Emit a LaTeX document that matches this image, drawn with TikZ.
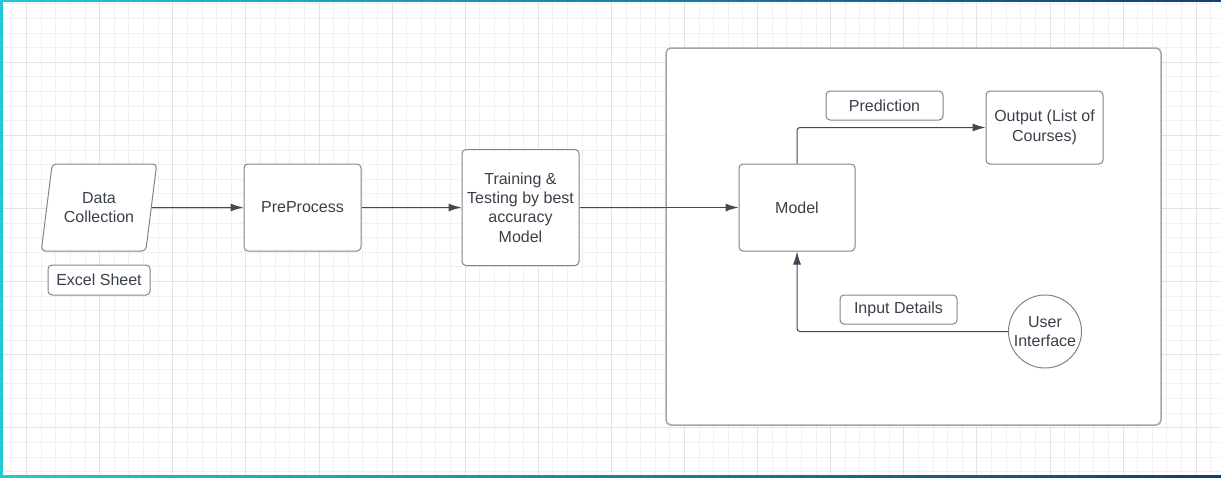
\documentclass[tikz,border=0pt]{standalone}
\usepackage{fontspec}
\setmainfont{Liberation Sans}
\usetikzlibrary{arrows.meta,shapes.geometric}
\definecolor{gridminor}{HTML}{F1F1F1}
\definecolor{gridmajor}{HTML}{E3E3E3}
\definecolor{boxline}{HTML}{7F848B}
\definecolor{arrowline}{HTML}{434952}
\definecolor{textgray}{HTML}{3A404A}
\definecolor{frameline}{HTML}{A2A5A9}
\definecolor{edgecyan}{HTML}{22C8D4}
\definecolor{edgeblue}{HTML}{143F6C}
\begin{document}
\begin{tikzpicture}[x=1pt, y=-1pt,
    block/.style={draw=boxline, line width=1pt, rounded corners=4pt, fill=white,
        text=textgray, align=center, inner sep=0pt,
        font=\fontsize{16}{19.3}\selectfont},
    tag/.style={block, minimum width=117pt, minimum height=29pt},
    link/.style={draw=arrowline, line width=1pt, -{Latex[length=13pt,width=8pt]}}]
        \useasboundingbox (0, 0) rectangle (1221, 477);
        \fill[white] (0, 0) rectangle (1221, 477);

        % grid
        \foreach \i in {-1,...,82}
            \draw[gridminor, line width=1pt] ({26.6 + 14.62 * \i}, 0) -- ++(0, 477);
        \foreach \j in {-4,...,28}
            \draw[gridminor, line width=1pt] (0, {62.3 + 14.62 * \j}) -- ++(1221, 0);
        \foreach \i in {0,...,16}
            \draw[gridmajor, line width=1pt] ({26.6 + 73.1 * \i}, 0) -- ++(0, 477);
        \foreach \j in {-0,...,5}
            \draw[gridmajor, line width=1pt] (0, {62.3 + 73.1 * \j}) -- ++(1221, 0);

        \node[draw=frameline, line width=1.5pt, rounded corners=5pt, fill=white,
            minimum width=495pt, minimum height=377pt] (system) at (913.5, 236.5) {};

        \node[block, trapezium, trapezium left angle=75, trapezium right angle=105,
            trapezium stretches=true, minimum width=116pt, minimum height=87pt]
            (data) at (99, 207.5) {Data\\Collection};
        \node[tag, minimum width=102pt, minimum height=30pt] (excel) at (99, 280) {Excel Sheet};

        \node[block, minimum width=117pt, minimum height=87pt] (pre) at (302.5, 207.5) {PreProcess};
        \node[block, minimum width=117pt, minimum height=116pt] (train) at (520.5, 207.5)
            {Training \&\\Testing by best\\accuracy\\Model};
        \node[block, minimum width=116pt, minimum height=87pt] (model) at (797, 207.5) {Model};

        \node[tag] (pred) at (884.5, 105.5) {Prediction};
        \node[block, minimum width=117pt, minimum height=73pt] (out) at (1044.5, 127.5)
            {Output (List of\\Courses)};
        \node[tag] (input) at (898.5, 309.5) {Input Details};
        \node[block, circle, sharp corners, minimum size=73pt] (ui) at (1045, 331.5) {User\\Interface};

        \draw[link] (data) -- (pre);
        \draw[link] (pre) -- (train);
        \draw[link] (train) -- (model);
        \draw[link, rounded corners=3pt] (model.north) |- (out.west);
        \draw[link, rounded corners=3pt] (ui.west) -| (model.south);

        % window edge
        \shade[left color=edgecyan, right color=edgeblue] (0, 0) rectangle (1221, 1.5);
        \shade[left color=edgecyan, right color=edgeblue] (0, 475) rectangle (1221, 477);
        \fill[edgecyan] (0, 0) rectangle (3, 477);
\end{tikzpicture}
\end{document}
